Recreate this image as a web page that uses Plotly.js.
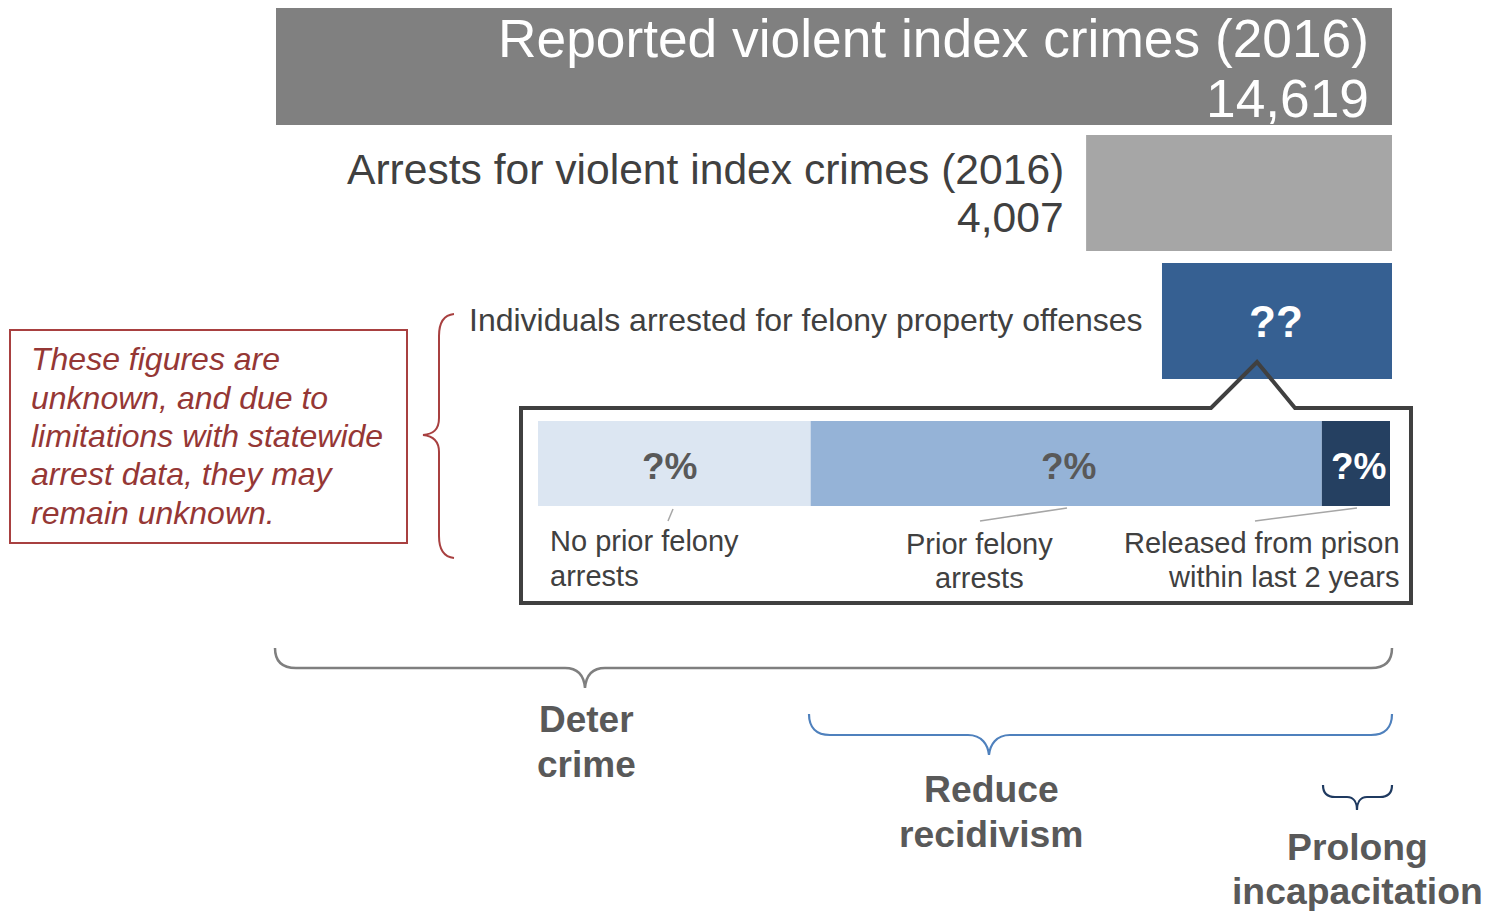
<!DOCTYPE html>
<html>
<head>
<meta charset="utf-8">
<script src="https://cdn.plot.ly/plotly-3.0.1.min.js"></script>
<style>html,body{margin:0;padding:0;background:#fff;}#chart{width:1498px;height:911px;}</style>
</head>
<body>
<div id="chart"></div>
<script>
// ---------------- DATA ----------------
const categories = ['Reported violent index crimes (2016)', 'Arrests for violent index crimes (2016)', 'Individuals arrested for felony property offenses'];
const counts = [14619, 4007, 3013];          // third value unknown in source ("??"), drawn at its illustrative size
const countLabels = ['14,619', '4,007', '??'];
const segments = ['No prior felony<br>arrests', 'Prior felony<br>arrests', 'Released from prison<br>within last 2 years'];
const segmentShares = [32, 60, 8];           // unknown in source ("?%"), illustrative sizes
const segmentLabels = ['?%', '?%', '?%'];
const goals = ['Deter<br>crime', 'Reduce<br>recidivism', 'Prolong<br>incapacitation'];
const noteLines = ['These figures are', 'unknown, and due to', 'limitations with statewide', 'arrest data, they may', 'remain unknown.'];

// ---------------- LAYOUT HELPERS ----------------
const W = 1498, H = 911;
const FONT = '"Liberation Sans", Arial, sans-serif';
const px = v => v / W;
function P(cmds) {
  return cmds.map(c => c[0] + c.slice(1).map((v, i) => i % 2 === 0 ? (v / W).toFixed(5) : v).join(',')).join(' ');
}
// x axis: 0 at pixel 1392, counts[0] at pixel 276
const barRight = 1392, barLeft = 276;
const k = counts[0] / (barRight - barLeft);
const xRange = [barRight * k, -(W - barRight) * k];

const barColors = ['#808080', '#A6A6A6', '#366092'];
const barY = [66.5, 193, 321];
const barH = [117, 116, 116];

const segColors = ['#DCE6F2', '#95B3D7', '#254061'];
const segBase = segmentShares.map((v, i) => segmentShares.slice(0, i).reduce((a, b) => a + b, 0));

const traces = [{
  type: 'bar', orientation: 'h',
  x: counts, y: barY, width: barH,
  marker: {color: barColors, line: {width: 0}},
  xaxis: 'x', yaxis: 'y', hoverinfo: 'skip'
}];
segmentShares.forEach((v, i) => {
  traces.push({
    type: 'bar', orientation: 'h',
    x: [v], base: [segBase[i]], y: [463.5], width: [85],
    marker: {color: segColors[i], line: {width: 0}},
    xaxis: 'x2', yaxis: 'y', hoverinfo: 'skip'
  });
});

const ann = [];
function A(text, x, y, size, color, opts) {
  ann.push(Object.assign({
    text: text, xref: 'paper', yref: 'y', x: px(x), y: y,
    showarrow: false, xanchor: 'center', yanchor: 'middle',
    font: {family: FONT, size: size, color: color}, borderpad: 0
  }, opts || {}));
}
// top bars
A(categories[0], 1370, 38, 53.3, '#FFFFFF', {xanchor: 'right'});
A(countLabels[0], 1370, 98, 53.3, '#FFFFFF', {xanchor: 'right'});
A(categories[1], 1065, 169, 42.6, '#404040', {xanchor: 'right'});
A(countLabels[1], 1065, 217, 42.6, '#404040', {xanchor: 'right'});
A(categories[2], 1144, 320, 32, '#404040', {xanchor: 'right'});
A('<b>' + countLabels[2] + '</b>', 1276, 321, 44, '#FFFFFF');

// segment labels inside bar (positioned on the x2 axis from data)
const segShift = [-4, 3, 3];
segmentShares.forEach((v, i) => {
  ann.push({
    text: '<b>' + segmentLabels[i] + '</b>', xref: 'x2', yref: 'y',
    x: segBase[i] + v / 2, y: 466, xshift: segShift[i], showarrow: false, xanchor: 'center', yanchor: 'middle',
    font: {family: FONT, size: 37, color: i === 2 ? '#FFFFFF' : '#595959'}, borderpad: 0
  });
});
// segment captions
const segLines = segments.map(s => s.split('<br>'));
A(segLines[0][0], 549, 541, 29, '#404040', {xanchor: 'left'});
A(segLines[0][1], 549, 576, 29, '#404040', {xanchor: 'left'});
A(segLines[1][0], 980, 544, 29, '#404040');
A(segLines[1][1], 980, 578, 29, '#404040');
A(segLines[2][0], 1401, 543, 29, '#404040', {xanchor: 'right'});
A(segLines[2][1], 1401, 577, 29, '#404040', {xanchor: 'right'});

// note
const noteY = [359, 398, 436, 474, 513];
noteLines.forEach((t, i) => A('<i>' + t + '</i>', 30, noteY[i], 32, '#953735', {xanchor: 'left'}));

// goals
const gl = goals.map(g => g.split('<br>'));
A('<b>' + gl[0][0] + '</b>', 586, 719, 37, '#595959');
A('<b>' + gl[0][1] + '</b>', 586, 764, 37, '#595959');
A('<b>' + gl[1][0] + '</b>', 992, 789, 37.3, '#595959');
A('<b>' + gl[1][1] + '</b>', 992, 834, 37.3, '#595959');
A('<b>' + gl[2][0] + '</b>', 1357, 847, 37.3, '#595959');
A('<b>' + gl[2][1] + '</b>', 1357, 891, 37.3, '#595959');

const shapes = [
  // note box
  {type: 'rect', xref: 'paper', yref: 'y', x0: px(10), x1: px(407), y0: 330, y1: 543, line: {color: '#A84040', width: 2}, fillcolor: 'rgba(0,0,0,0)'},
  // red brace
  {type: 'path', xref: 'paper', yref: 'y', line: {color: '#A84040', width: 2},
   path: P([['M', 454, 314], ['C', 444, 315, 439, 322, 439, 336], ['L', 439, 418], ['C', 439, 430, 433, 434, 423, 435], ['C', 433, 436, 439, 441, 439, 452], ['L', 439, 536], ['C', 439, 550, 444, 557, 454, 558]])},
  // callout
  {type: 'path', xref: 'paper', yref: 'y', layer: 'above', line: {color: '#404040', width: 4},
   path: P([['M', 521, 408], ['L', 1211, 408], ['L', 1257, 362], ['L', 1295, 408], ['L', 1411, 408], ['L', 1411, 603], ['L', 521, 603], ['Z']])},
  // leader lines
  {type: 'line', xref: 'paper', yref: 'y', x0: px(673), y0: 509, x1: px(668), y1: 521, line: {color: '#A6A6A6', width: 1.5}},
  {type: 'line', xref: 'paper', yref: 'y', x0: px(1067), y0: 508, x1: px(980), y1: 521, line: {color: '#A6A6A6', width: 1.5}},
  {type: 'line', xref: 'paper', yref: 'y', x0: px(1357), y0: 508, x1: px(1255), y1: 521, line: {color: '#A6A6A6', width: 1.5}},
  // braces
  {type: 'path', xref: 'paper', yref: 'y', line: {color: '#7F7F7F', width: 2.5},
   path: P([['M', 275, 648], ['C', 275, 661, 282, 668, 296, 668], ['L', 565, 668], ['C', 578, 668, 584, 676, 585, 688], ['C', 586, 676, 592, 668, 605, 668], ['L', 1371, 668], ['C', 1385, 668, 1392, 661, 1392, 648]])},
  {type: 'path', xref: 'paper', yref: 'y', line: {color: '#4F81BD', width: 2.2},
   path: P([['M', 809, 714], ['C', 809, 727, 816, 735, 830, 735], ['L', 968, 735], ['C', 982, 735, 988, 745, 989, 755], ['C', 990, 745, 996, 735, 1010, 735], ['L', 1371, 735], ['C', 1385, 735, 1392, 727, 1392, 714]])},
  {type: 'path', xref: 'paper', yref: 'y', line: {color: '#1F3A60', width: 2.2},
   path: P([['M', 1323, 785], ['C', 1323, 793, 1327, 797, 1335, 797], ['L', 1347, 797], ['C', 1354, 797, 1357, 803, 1357, 810], ['C', 1357, 803, 1360, 797, 1367, 797], ['L', 1380, 797], ['C', 1388, 797, 1392, 793, 1392, 785]])}
];

const layout = {
  width: W, height: H,
  margin: {l: 0, r: 0, t: 0, b: 0, pad: 0},
  paper_bgcolor: '#FFFFFF', plot_bgcolor: 'rgba(0,0,0,0)',
  showlegend: false, barmode: 'overlay',
  xaxis: {range: xRange, visible: false, fixedrange: true, domain: [0, 1]},
  xaxis2: {range: [0, 100], domain: [538 / W, 1390 / W], anchor: 'y', visible: false, fixedrange: true},
  yaxis: {range: [H, 0], visible: false, fixedrange: true, domain: [0, 1]},
  annotations: ann,
  shapes: shapes,
  font: {family: FONT}
};

Plotly.newPlot('chart', traces, layout, {staticPlot: true, displayModeBar: false});
</script>
</body>
</html>
